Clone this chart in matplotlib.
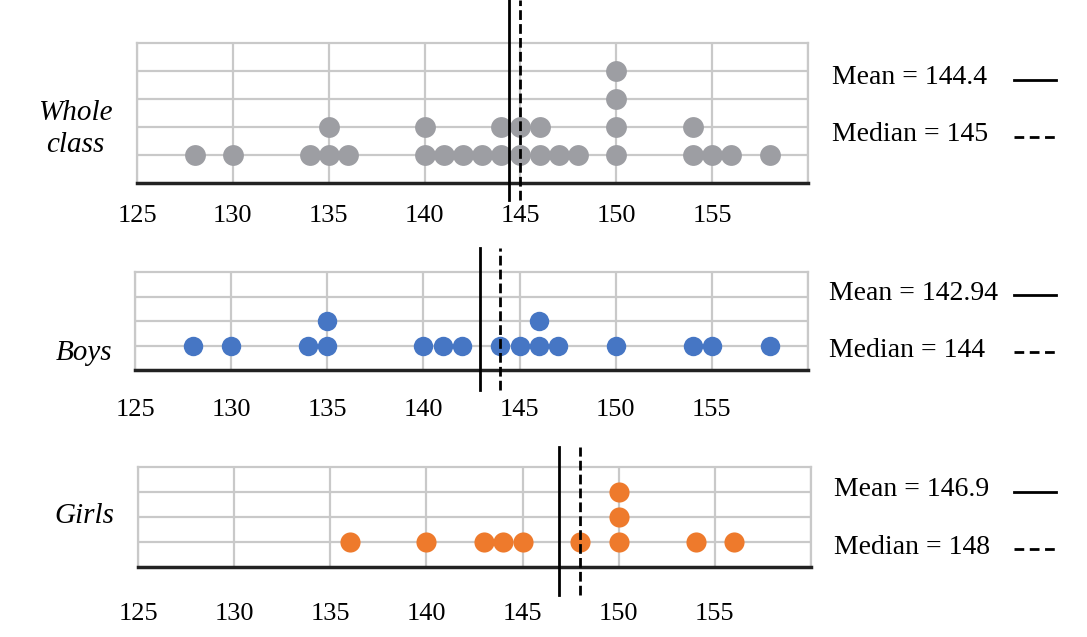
import matplotlib.pyplot as plt
from matplotlib.lines import Line2D
from collections import Counter

plt.rcParams['font.family'] = ['Liberation Serif', 'DejaVu Serif']

# heights
boys = [128, 130, 134, 135, 135, 140, 141, 142, 144, 145, 146, 146, 147,
        150, 154, 155, 158]
girls = [136, 140, 143, 144, 145, 148, 150, 150, 150, 154, 156]
whole_class = sorted(boys + girls)

group_names = ['Whole\nclass', 'Boys', 'Girls']
mean_vals = [144.4, 142.94, 146.9]
median_vals = [145, 144, 148]
mean_text = ['144.4', '142.94', '146.9']
median_text = ['145', '144', '148']
tick_vals = [125, 130, 135, 140, 145, 150, 155]

W, H = 1087, 637
fig = plt.figure(figsize=(W / 100, H / 100), dpi=100)


def fx(px):
    return px / W


def fy(py):
    return 1 - py / H


# panel settings: axes box in pixels (left, top, right, bottom), ymax,
# tick pad, line extent, label positions
panels = [
    dict(data=whole_class, color='#9d9ea3', box=(137, 43, 808, 183), ymax=5,
         pad=16, lines=(0, 200), name_xy=(75, 129), txt_x=832,
         txt_y=(78, 135), ms=15),
    dict(data=boys, color='#4676c4', box=(135, 272, 808, 370), ymax=4,
         pad=21, lines=(248, 390), name_xy=(84, 353), txt_x=829,
         txt_y=(293, 350), ms=14),
    dict(data=girls, color='#ee7a2c', box=(138, 467, 811, 567), ymax=4,
         pad=26, lines=(447, 595), name_xy=(84, 516), txt_x=834,
         txt_y=(490, 547), ms=14.5),
]

for i, p in enumerate(panels):
    l, t, r, b = p['box']
    ax = fig.add_axes([fx(l), fy(b), fx(r - l), (b - t) / H])
    ax.set_xlim(125, 160)
    ax.set_ylim(0, p['ymax'])
    ax.set_xticks(range(125, 161, 5))
    ax.set_yticks(range(1, p['ymax']))
    ax.grid(True, color='#c9c9c9', lw=1.6)
    ax.set_axisbelow(True)
    ax.set_xticklabels([str(v) for v in tick_vals] + [''])
    ax.tick_params(axis='x', length=0, pad=p['pad'], labelsize=19)
    ax.tick_params(axis='y', length=0, labelleft=False)
    for s in ['left', 'right', 'top']:
        ax.spines[s].set_color('#c9c9c9')
        ax.spines[s].set_linewidth(1.6)
    ax.spines['bottom'].set_color('#222222')
    ax.spines['bottom'].set_linewidth(2.5)

    counts = Counter(p['data'])
    for v, n in counts.items():
        ax.plot([v] * n, list(range(1, n + 1)), 'o', color=p['color'],
                ms=p['ms'], mec='none', zorder=3)

    # mean (solid) and median (dashed) lines run past the box
    upx = (b - t) / p['ymax']
    y0 = (b - p['lines'][1]) / upx
    y1 = (b - p['lines'][0]) / upx
    ax.plot([mean_vals[i]] * 2, [y0, y1], color='black', lw=2,
            clip_on=False, zorder=4)
    ax.plot([median_vals[i]] * 2, [y0, y1], color='black', lw=2,
            ls=(0, (3.5, 1.5)), clip_on=False, zorder=4)

    nx, ny = p['name_xy']
    fig.text(fx(nx), fy(ny), group_names[i], ha='center', va='center',
             style='italic', fontsize=21, linespacing=1.3)

    ty1, ty2 = p['txt_y']
    fig.text(fx(p['txt_x']), fy(ty1), 'Mean = ' + mean_text[i],
             ha='left', va='center', fontsize=20)
    fig.text(fx(p['txt_x']), fy(ty2), 'Median = ' + median_text[i],
             ha='left', va='center', fontsize=20)
    fig.add_artist(Line2D([fx(1014), fx(1056)], [fy(ty1 + 2)] * 2,
                          color='black', lw=2))
    fig.add_artist(Line2D([fx(1014), fx(1056)], [fy(ty2 + 2)] * 2,
                          color='black', lw=2, ls=(0, (3.5, 2))))

fig.savefig('out.png', dpi=100)
